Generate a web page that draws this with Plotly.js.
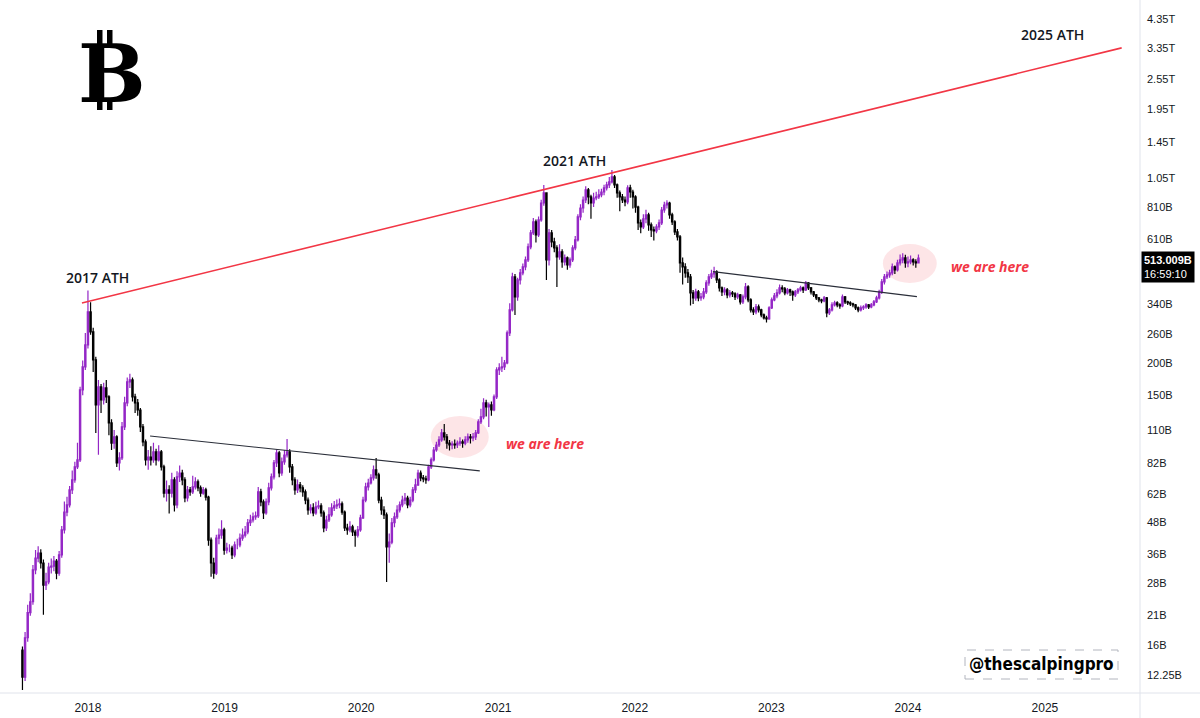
<!DOCTYPE html>
<html><head><meta charset="utf-8">
<script src="https://cdn.plot.ly/plotly-3.0.1.min.js"></script>
<style>html,body{margin:0;padding:0;background:#fff;}#chart{width:1200px;height:718px;}</style>
</head><body><div id="chart"></div>
<script>
// ---- data (weekly candles, values in billions USD) ----
const firstWeek = '2017-07-10';
const firstOpen = 15.3;
const closeVals = [
12.0,17.1,21.4,23.6,31.4,34.9,36.5,33.4,27.4,28.2,
32.2,32.5,34.0,30.5,35.9,44.9,52.7,56.2,64.3,70.3,
79.0,84.1,157.4,193.4,235.5,316.6,264.6,205.9,137.6,161.7,
143.9,160.2,147.8,117.1,97.8,103.3,81.9,85.6,113,140.1,
169.2,172.2,147.8,140.1,131.5,113,98.8,84.1,86.3,84.1,
90.3,84.1,90.3,79.0,62.5,64.3,62.5,70.3,56.2,72.2,
74.8,70.3,59.8,64.3,63.2,66.0,69.1,65.5,62.5,64.3,
60.3,41.0,33.4,30.5,41.7,42.9,44.9,37.5,38.2,38.2,
35.9,39.3,39.3,41.7,42.9,44.1,47.9,49.1,50.5,50.9,
63.2,57.7,52.3,57.7,65.5,72.2,81.9,89.5,74.8,82.6,
87.9,90.3,79.0,70.3,64.3,67.2,65.5,63.2,58.7,53.7,
54.7,52.3,55.2,55.7,52.3,45.7,49.1,51.4,54.7,55.7,
56.2,56.7,52.7,45.7,44.9,46.2,44.1,42.9,44.9,50.0,
58.7,66.0,68.4,71.6,76.9,73.5,58.7,53.7,51.4,38.6,
40.3,47.9,50.5,53.7,56.2,58.7,59.8,56.2,58.7,64.3,
67.2,74.8,71.6,70.9,70.3,79.0,84.1,91.9,96.1,100.6,
107.1,103.3,97.8,96.1,97.0,96.1,97.8,98.8,97.8,100.6,
103.3,102.4,103.3,107.1,118.2,123.6,140.1,135.2,137.6,131.5,
147.8,188.3,191.7,193.4,200.5,262.3,322.3,433.1,362.1,421.6,
448.9,473.7,504.3,566.6,642.4,709.2,631,722,840,919,
504.3,642.4,592.5,561.6,518,541.8,495.4,513.4,482.2,504.3,
561.6,603.2,741.7,803,863,944,887,840,878.6,887,
903,927,961,988,1015,1061,988,919,887,863,
848,961,927,887,810,702.5,677.8,728.5,755,690,
660,654,677.8,702.5,789,825,840,755,709.2,648.3,
619.8,491,473.7,449,433.1,375.2,358.9,378.7,358.9,362.1,
378.7,410.4,433.1,444.9,452.9,421.6,392.5,378.7,385.5,368.6,
375.2,371.9,362.1,368.6,346.3,362.1,396,352.5,322.3,316.6,
331,322.3,308.2,300,297.4,328.1,352.5,365.3,375.2,392.5,
389,375.2,385.5,378.7,368.6,378.7,385.5,392.5,385.5,410.4,
392.5,378.7,368.6,358.9,352.5,349.4,358.9,313.8,322.3,337,
343.1,337,334,362.1,346.3,343.1,340,337,328.1,322.3,
328.1,331,337,331,337,346.3,358.9,378.7,414.1,433.1,
440.9,448.9,473.7,461.1,491,504.3,513.4,491,495.4,504.3,
495.4,491,513.009];
const highVals = [
15.8,18.0,23.0,25.5,32.8,37.5,38.8,37.8,34.5,30.6,
33.5,34.8,35.6,34.6,37.2,46.5,58.0,60.5,66.5,76.5,
82.8,98.0,162,205,262,384,345,275,212,172,
166,168,172,150,121,110,105,90,118,148,
176,182,176,152,145,134,116,101,92,95,
98,93,96,92,80.5,70,67,75,72,76,
80,77,72,66.5,66,73,72,70.5,66.8,66,
65.5,61,42,35,43,45.5,49,45.8,40,39.5,
39,40.5,41.5,43.5,45.5,46.5,49.5,51.5,52.5,53,
66,65,59,59.5,68.5,74.5,84,92.5,91,86,
92,101.5,92.5,81,72,70.5,69,67,64.5,60,
56.5,57,57.8,58.5,57,53.5,51,55,57,58.2,
59,59.5,58,53.5,47.5,48.5,47,45,46.5,51.5,
60.5,68.5,71,74,80,85.6,75,60.5,55.5,52.5,
43.5,50,52.5,56,58,61,62.5,61,60.5,66,
71,77,76.5,73.5,73,80.5,86,94.5,99,104,
111,116,106,100.5,99.5,101,100,103,101,104,
106.5,106,107,110,121,133,146,144,140.5,142,
151,193,200,212,206,268,342,450,445,430,
465,488,520,585,660,735,725,745,865,988,
925,665,660,615,575,580,555,530,520,515,
575,625,760,830,890,975,960,905,920,930,
950,955,990,1015,1060,1129,1080,1000,940,910,
890,985,990,945,900,820,725,760,790,770,
705,680,695,725,810,850,860,850,770,720,
665,630,515,490,465,445,385,390,385,375,
392,420,445,462,475,460,428,398,395,392,
385,382,378,376,372,370,410,402,358,330,
340,338,326,312,306,333,360,375,388,405,
402,396,392,390,384,385,392,400,398,418,
414,396,382,372,362,356,365,362,328,345,
350,348,342,370,365,350,348,344,340,332,
335,336,342,340,343,352,366,386,425,445,
455,462,488,480,505,530,535,528,520,525,
512,508,530];
const lowVals = [
10.7,11.6,16.5,20.8,23.0,30.2,33.6,31.8,21.0,26.2,
27.6,30.4,31.0,28.9,29.8,35.0,43.5,50.8,54.9,62.0,
68.5,77.5,82.5,150,188,228,258,185,107,88,
128,138,140,105,92,93,79,76.5,84,110,
136,160,142,128,125,108,95,80,77,80,
82,80,83,76.5,60,58,52,60,53,54.5,
69,67,57.5,58.0,61,62,64.5,63.5,60.5,61.5,
58.5,39,29.5,29.0,30,39.5,41.5,36,36.4,36.8,
34.6,35.2,37.8,38.5,40.8,42,43.2,46.5,48,49.2,
50,55.5,49.5,51.5,56,64,70.5,79,72,73,
80.5,86,75,67,61.5,62.5,63,60.5,56.5,51.5,
52,50.8,51.5,54,50.5,44,44.5,48.2,50.5,53.2,
54.2,54.5,51.5,44.5,43,44,42.5,38.6,42,44.2,
49.5,57.5,64,67.5,70,71,57,51.5,49.5,28.2,
33.5,39.5,46,49.5,52.5,55,56.5,54.5,55,57.5,
62.5,66.5,69.5,68.8,68,69.5,77.5,83,90.5,94.5,
99,100,93,91.5,92.5,93,93.5,95.5,93.8,96,
98,97.5,99.5,100.5,106,116,121,124,113,125,
130,145,180,185,188,198,255,318,308,350,
405,440,460,495,555,630,590,620,710,820,
421.6,480,565,540,396,505,470,480,462,470,
495,550,595,720,770,840,830,730,810,860,
870,885,900,940,960,1000,960,880,780,840,
815,830,880,800,770,660,640,665,700,655,
620,600,640,660,690,770,800,730,690,630,
600,450,405,430,410,335,340,350,348,350,
355,372,400,425,430,410,380,365,368,358,
360,362,352,355,338,340,355,345,315,308,
310,315,302,296,288,295,325,348,358,370,
378,368,370,365,350,362,372,380,375,382,
385,370,362,352,345,342,345,302,308,318,
332,330,326,330,340,337,334,330,322,316,
318,322,326,325,327,333,343,354,372,405,
425,430,440,445,455,480,490,470,472,485,
480,470,488];

// trend lines (date, value in B)
const athLineX = ['2017-12-16', '2025-07-25'];
const athLineY = [343, 3371];
const resist1X = ['2018-06-16', '2020-11-13'];
const resist1Y = [104.2, 76.2];
const resist2X = ['2022-07-29', '2024-01-25'];
const resist2Y = [454.3, 363];

// highlighted zones (date range, value range)
const zone1X = ['2020-07-05', '2020-12-07'];
const zone1Y = [85.6, 124.7];
const zone2X = ['2023-10-26', '2024-03-18'];
const zone2Y = [410.6, 582];

// axis labels
const yTickVals = [4350, 3350, 2550, 1950, 1450, 1050, 810, 610, 340, 260, 200, 150, 110, 82, 62, 48, 36, 28, 21, 16, 12.25];
const yTickText = ['4.35T','3.35T','2.55T','1.95T','1.45T','1.05T','810B','610B','340B','260B','200B','150B','110B','82B','62B','48B','36B','28B','21B','16B','12.25B'];
const xTickVals = ['2018-01-01','2019-01-01','2020-01-01','2021-01-01','2022-01-01','2023-01-01','2024-01-01','2025-01-01'];
const xTickText = ['2018','2019','2020','2021','2022','2023','2024','2025'];
const lastPriceLabel = '513.009B';
const countdownLabel = '16:59:10';

// ---- build ----
const t0 = Date.UTC(2017, 6, 10);
const dates = closeVals.map((_, i) => new Date(t0 + i * 7 * 86400000).toISOString().slice(0, 10));
const openVals = closeVals.map((c, i) => i === 0 ? firstOpen : closeVals[i - 1]);

const PW = 1140, PH = 693;
const px = x => x / PW;
const py = y => 1 - y / PH;

const purple = '#9427c6';
const traces = [
  {type:'candlestick', x:dates, open:openVals, high:highVals, low:lowVals, close:closeVals,
   increasing:{line:{color:purple, width:1.2}, fillcolor:purple},
   decreasing:{line:{color:'#000000', width:1.2}, fillcolor:'#000000'},
   whiskerwidth:0, hoverinfo:'skip'},
  {type:'scatter', mode:'lines', x:athLineX, y:athLineY, line:{color:'#f23645', width:1.6}, hoverinfo:'skip'},
  {type:'scatter', mode:'lines', x:resist1X, y:resist1Y, line:{color:'#2a2e39', width:1.1}, hoverinfo:'skip'},
  {type:'scatter', mode:'lines', x:resist2X, y:resist2Y, line:{color:'#2a2e39', width:1.1}, hoverinfo:'skip'}
];

const pink = 'rgba(242,54,69,0.13)';
const shapes = [
  {type:'circle', xref:'x', yref:'y', x0:zone1X[0], x1:zone1X[1], y0:zone1Y[0], y1:zone1Y[1], fillcolor:pink, line:{width:0}, layer:'below'},
  {type:'circle', xref:'x', yref:'y', x0:zone2X[0], x1:zone2X[1], y0:zone2Y[0], y1:zone2Y[1], fillcolor:pink, line:{width:0}, layer:'below'},
  {type:'line', xref:'paper', yref:'paper', x0:0, x1:1200/PW, y0:0, y1:0, line:{color:'#e0e3eb', width:1}},
  {type:'line', xref:'paper', yref:'paper', x0:1, x1:1, y0:-25/PH, y1:1, line:{color:'#e0e3eb', width:1}},
  {type:'rect', xref:'paper', yref:'paper', x0:px(965), x1:px(1118), y0:py(679), y1:py(650), line:{color:'#b2b5be', width:1, dash:'dash'}, fillcolor:'rgba(0,0,0,0)'},
  // bitcoin logo strokes (top and bottom bars)
  {type:'rect', xref:'paper', yref:'paper', x0:px(97), x1:px(102.5), y0:py(44), y1:py(30), fillcolor:'#000', line:{width:0}},
  {type:'rect', xref:'paper', yref:'paper', x0:px(107), x1:px(112.5), y0:py(44), y1:py(30), fillcolor:'#000', line:{width:0}},
  {type:'rect', xref:'paper', yref:'paper', x0:px(97), x1:px(102.5), y0:py(110), y1:py(98), fillcolor:'#000', line:{width:0}},
  {type:'rect', xref:'paper', yref:'paper', x0:px(107), x1:px(112.5), y0:py(110), y1:py(98), fillcolor:'#000', line:{width:0}}
];

const labFont = {family:'Open Sans, Noto Sans, sans-serif', size:14, color:'#131722', weight:600};
const redFont = {family:'Open Sans, Noto Sans, sans-serif', size:14, color:'#f23645', weight:700, style:'italic'};
const ann = (x, y, text, font) => ({xref:'paper', yref:'paper', x:px(x), y:py(y), xanchor:'center', yanchor:'middle', text:text, showarrow:false, font:font});
const annotations = [
  ann(97, 277, '2017 ATH', labFont),
  ann(574, 160, '2021 ATH', labFont),
  ann(1052, 35, '2025 ATH', labFont),
  ann(545, 443, 'we are here', redFont),
  ann(990, 267, 'we are here', redFont),
  ann(1041, 664, '@thescalpingpro', {family:'DejaVu Sans Condensed, Liberation Sans Narrow, DejaVu Sans, sans-serif', size:17, color:'#000', weight:700}),
  ann(112, 74, 'B', {family:'DejaVu Serif, Liberation Serif, serif', size:80, color:'#000', weight:700}),
  {xref:'paper', yref:'y', x:1, xanchor:'left', xshift:1, y:Math.log10(closeVals[closeVals.length-1]), yanchor:'top', yshift:7,
   text:'<b>'+lastPriceLabel+'</b><br>'+countdownLabel, showarrow:false, align:'left',
   bgcolor:'#000000', borderpad:2, font:{family:'Liberation Sans, Arial, sans-serif', size:11, color:'#ffffff'}}
];

const layout = {
  width:1200, height:718,
  margin:{l:0, r:60, t:0, b:25},
  paper_bgcolor:'#ffffff', plot_bgcolor:'#ffffff',
  showlegend:false, hovermode:false,
  font:{family:'Liberation Sans, Arial, sans-serif', color:'#131722'},
  xaxis:{type:'date', range:['2017-05-11','2025-09-12'], rangeslider:{visible:false},
    tickvals:xTickVals, ticktext:xTickText, showgrid:false, zeroline:false, showline:false,
    ticks:'', ticklabelstandoff:6, tickfont:{size:12, color:'#131722'}},
  yaxis:{type:'log', side:'right', range:[1.018, 3.714], tickvals:yTickVals, ticktext:yTickText,
    showgrid:false, zeroline:false, showline:false, ticks:'', ticklabelstandoff:6,
    tickfont:{size:11, color:'#131722'}},
  shapes:shapes, annotations:annotations
};

Plotly.newPlot('chart', traces, layout, {displayModeBar:false, staticPlot:true});
</script>
</body></html>
